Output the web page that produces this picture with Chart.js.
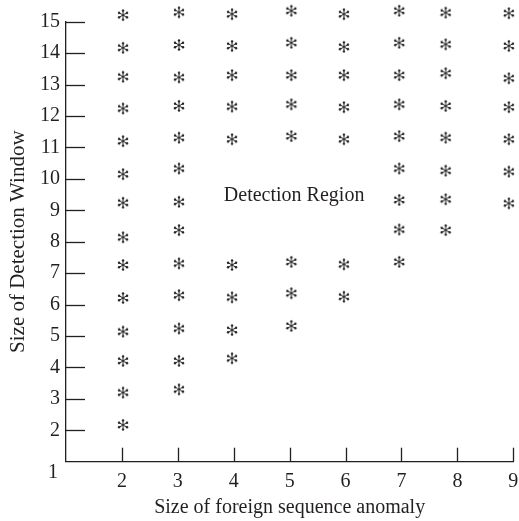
<!DOCTYPE html>
<html>
<head>
<meta charset="utf-8">
<script src="https://cdn.jsdelivr.net/npm/chart.js@4/dist/chart.umd.min.js"></script>
<style>
  html, body { margin: 0; padding: 0; background: #fff; }
  #wrap { width: 519px; height: 521px; position: relative; }
</style>
</head>
<body>
<div id="wrap"><canvas id="c"></canvas></div>
<script>
// Size of foreign sequence anomaly (one column of marks per size)
const anomalySizes = [2, 3, 4, 5, 6, 7, 8, 9];
// Horizontal position of each column of marks
const columnX = [2.02, 3.02, 3.97, 5.03, 5.97, 6.96, 7.79, 8.92];
// Detection window sizes marked in each column (top to bottom)
const windows2 = [15.21, 14.17, 13.25, 12.24, 11.20, 10.15, 9.24, 8.14, 7.26, 6.21, 5.14, 4.21, 3.20, 2.17];
const windows3 = [15.30, 14.26, 13.23, 12.32, 11.31, 10.33, 9.27, 8.37, 7.31, 6.30, 5.24, 4.21, 3.30];
const windows4 = [15.24, 14.23, 13.30, 12.30, 11.26, 7.26, 6.23, 5.19, 4.29];
const windows5 = [15.35, 14.33, 13.30, 12.37, 11.36, 7.36, 6.36, 5.32];
const windows6 = [15.24, 14.20, 13.30, 12.28, 11.26, 7.28, 6.25];
const windows7 = [15.35, 14.33, 13.30, 12.37, 11.36, 10.33, 9.33, 8.39, 7.36];
const windows8 = [15.29, 14.28, 13.36, 12.32, 11.31, 10.26, 9.35, 8.37];
const windows9 = [15.27, 14.23, 13.20, 12.28, 11.26, 10.23, 9.22];
const windowColumns = [windows2, windows3, windows4, windows5, windows6, windows7, windows8, windows9];

// Axis ticks
const xTicks = [1, 2, 3, 4, 5, 6, 7, 8, 9];
const yTicks = [1, 2, 3, 4, 5, 6, 7, 8, 9, 10, 11, 12, 13, 14, 15];

// Region annotation
const regionLabel = 'Detection Region';
const regionLabelAt = { x: 5.08, y: 9.45 };

const INK = '#231f20';
const FONT = '"Liberation Serif", "Times New Roman", serif';

const points = [];
windowColumns.forEach((col, i) => {
  col.forEach(v => points.push({ x: columnX[i], y: v }));
});

// Six-spoked asterisk marker with rounded spoke ends
function makeAsterisk() {
  const s = 14, c = s / 2, r = 4.6;
  const cv = document.createElement('canvas');
  cv.width = s; cv.height = s;
  const g = cv.getContext('2d');
  g.strokeStyle = INK; g.fillStyle = INK;
  g.lineWidth = 1.0; g.lineCap = 'round';
  for (let k = 0; k < 3; k++) {
    const a = Math.PI / 2 + k * Math.PI / 3;
    const dx = Math.cos(a) * r, dy = Math.sin(a) * r;
    g.beginPath(); g.moveTo(c - dx, c - dy); g.lineTo(c + dx, c + dy); g.stroke();
    g.beginPath(); g.arc(c + dx, c + dy, 1.2, 0, Math.PI * 2); g.fill();
    g.beginPath(); g.arc(c - dx, c - dy, 1.2, 0, Math.PI * 2); g.fill();
  }
  return cv;
}

// Inward tick marks, the corner "1" label and the region annotation
const axisDecor = {
  id: 'axisDecor',
  afterDraw(chart) {
    const { ctx, scales: { x, y }, chartArea: a } = chart;
    ctx.save();
    ctx.strokeStyle = INK;
    ctx.lineWidth = 1.3;
    y.ticks.forEach(t => {
      if (t.value === 1) return;
      const py = Math.round(y.getPixelForValue(t.value)) + 0.5;
      ctx.beginPath(); ctx.moveTo(a.left, py); ctx.lineTo(a.left + 19, py); ctx.stroke();
    });
    x.ticks.forEach(t => {
      if (t.value === 1) return;
      const px = Math.round(x.getPixelForValue(t.value)) + 0.5;
      ctx.beginPath(); ctx.moveTo(px, a.bottom); ctx.lineTo(px, a.bottom - 14); ctx.stroke();
    });
    ctx.fillStyle = INK;
    ctx.font = '20px ' + FONT;
    ctx.textAlign = 'right';
    ctx.textBaseline = 'middle';
    ctx.fillText(String(yTicks[0]), a.left - 8, y.getPixelForValue(yTicks[0]) + 11);
    ctx.textAlign = 'center';
    ctx.font = '20px ' + FONT;
    ctx.fillText(regionLabel, x.getPixelForValue(regionLabelAt.x), y.getPixelForValue(regionLabelAt.y));
    ctx.restore();
  }
};

new Chart(document.getElementById('c'), {
  type: 'scatter',
  data: {
    datasets: [{
      data: points,
      pointStyle: makeAsterisk(),
      pointRadius: 14,
      showLine: false,
      clip: false
    }]
  },
  options: {
    responsive: true,
    maintainAspectRatio: false,
    animation: false,
    devicePixelRatio: 1,
    layout: { autoPadding: false, padding: { left: 0, top: 21.7, right: 0, bottom: 0 } },
    plugins: { legend: { display: false }, tooltip: { enabled: false } },
    scales: {
      x: {
        type: 'linear',
        min: xTicks[0], max: xTicks[xTicks.length - 1],
        afterBuildTicks: s => { s.ticks = xTicks.map(v => ({ value: v })); },
        afterFit: s => { s.height = 59.3; s.paddingLeft = 0; s.paddingRight = 5.7; },
        grid: { display: true, drawOnChartArea: false, drawTicks: true, tickLength: 8, tickColor: 'rgba(0,0,0,0)' },
        border: { display: true, color: INK, width: 1.3 },
        ticks: {
          color: INK, padding: 0,
          font: { family: FONT, size: 20 },
          callback: v => (v === xTicks[0] ? '' : String(v))
        },
        title: {
          display: true, text: 'Size of foreign sequence anomaly', color: INK,
          font: { family: FONT, size: 20 }, padding: { top: 0, bottom: 1 }
        }
      },
      y: {
        type: 'linear',
        min: yTicks[0], max: yTicks[yTicks.length - 1],
        afterBuildTicks: s => { s.ticks = yTicks.map(v => ({ value: v })); },
        afterFit: s => { s.width = 66; },
        grid: { display: true, drawOnChartArea: false, drawTicks: false },
        border: { display: true, color: INK, width: 1.3 },
        ticks: {
          color: INK, padding: 6,
          font: { family: FONT, size: 20 },
          callback: v => (v === yTicks[0] ? '' : String(v))
        },
        title: {
          display: true, text: 'Size of Detection Window', color: INK,
          font: { family: FONT, size: 21 }, padding: { top: 6, bottom: 0 }
        }
      }
    }
  },
  plugins: [axisDecor]
});
</script>
</body>
</html>
